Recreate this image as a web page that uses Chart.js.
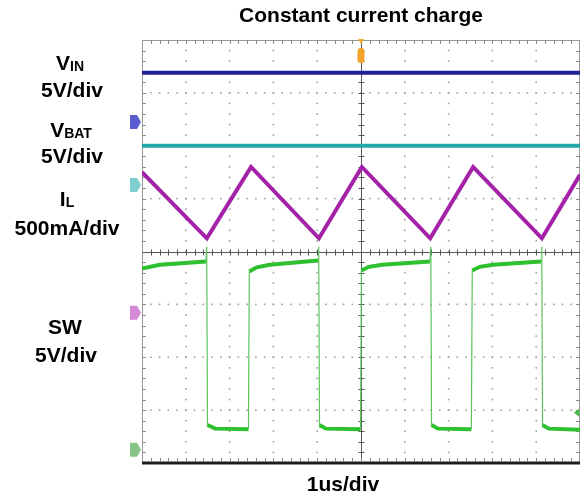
<!DOCTYPE html>
<html><head><meta charset="utf-8">
<script src="https://cdn.jsdelivr.net/npm/chart.js@4/dist/chart.umd.min.js"></script>
<style>
html,body{margin:0;padding:0;background:#fff;}
#wrap{position:relative;width:586px;height:498px;overflow:hidden;}
canvas{position:absolute;left:0;top:0;}
.lbl{position:absolute;transform:translateX(-50%);font:bold 21px "Liberation Sans",Arial,sans-serif;line-height:21px;white-space:nowrap;color:#000;}
.lbl small{font-size:14px;position:relative;top:1px;}
</style></head><body>
<div id="wrap">
<canvas id="c" width="586" height="498"></canvas>
<div class="lbl" style="left:70px;top:52px">V<small>IN</small></div>
<div class="lbl" style="left:72px;top:79px">5V/div</div>
<div class="lbl" style="left:71px;top:119px">V<small>BAT</small></div>
<div class="lbl" style="left:72px;top:145px">5V/div</div>
<div class="lbl" style="left:67px;top:188px">I<small>L</small></div>
<div class="lbl" style="left:67px;top:217px">500mA/div</div>
<div class="lbl" style="left:65px;top:316px">SW</div>
<div class="lbl" style="left:66px;top:344px">5V/div</div>
<div class="lbl" style="left:343px;top:473px">1us/div</div>
</div>
<script>
// Screen grid: 10 horizontal divisions (1 us/div), 8 vertical divisions
const xDivs = 10;
const yDivs = 8;

// VIN trace (time in us, level in divisions from bottom of screen)
const vinT = [0, 10];
const vinY = [7.38, 7.38];

// VBAT trace
const vbatT = [0, 10];
const vbatY = [6.0, 6.0];

// Inductor current IL trace (triangle vertices)
const ilT = [0, 1.48, 2.49, 4.04, 5.02, 6.58, 7.56, 9.13, 10];
const ilY = [5.50, 4.25, 5.60, 4.25, 5.60, 4.25, 5.60, 4.25, 5.45];

// SW node trace
const swT = [0, 0.41, 1.46, 1.477, 1.495, 1.67, 2.43, 2.45, 2.62, 2.92, 4.02, 4.034, 4.053, 4.20, 4.99, 5.01, 5.18, 5.48, 6.575, 6.594, 6.61, 6.76, 7.52, 7.54, 7.71, 8.01, 9.11, 9.128, 9.144, 9.29, 10];
const swY = [3.68, 3.75, 3.81, 4.09, 0.72, 0.65, 0.64, 3.62, 3.70, 3.75, 3.83, 4.09, 0.72, 0.65, 0.64, 3.64, 3.71, 3.75, 3.81, 4.09, 0.72, 0.65, 0.64, 3.64, 3.71, 3.75, 3.81, 4.09, 0.72, 0.65, 0.63];

// Channel ground markers (division levels) and trigger position
const markerLevels = [6.45, 5.26, 2.84, 0.25];
const markerColors = ['#5b5bd0', '#7fcfcf', '#d58ad5', '#86c586'];
const triggerTime = 5;

const pts = (t, v) => t.map((x, i) => ({x, y: v[i]}));

const graticule = {
  id: 'graticule',
  beforeDatasetsDraw(chart) {
    const {ctx, chartArea: {left, right, top, bottom}, scales: {x, y}} = chart;
    ctx.save();
    // dotted grid
    ctx.fillStyle = '#a0a0a0';
    for (let i = 1; i < xDivs; i++) {
      if (i === xDivs / 2) continue;
      const px = x.getPixelForValue(i);
      for (let j = 1; j < yDivs * 5; j++) {
        const py = y.getPixelForValue(j / 5);
        ctx.fillRect(px - 0.8, py - 0.8, 1.6, 1.6);
      }
    }
    for (let j = 1; j < yDivs; j++) {
      if (j === yDivs / 2) continue;
      const py = y.getPixelForValue(j);
      for (let i = 1; i < xDivs * 5; i++) {
        const px = x.getPixelForValue(i / 5);
        ctx.fillRect(px - 0.8, py - 0.8, 1.6, 1.6);
      }
    }
    // outer border
    ctx.strokeStyle = '#9a9a9a';
    ctx.lineWidth = 1;
    ctx.strokeRect(left + 0.5, top + 0.5, right - left - 1, bottom - top);
    // border minor ticks
    ctx.strokeStyle = '#8a8a8a';
    ctx.beginPath();
    for (let i = 1; i < xDivs * 5; i++) {
      const px = Math.round(x.getPixelForValue(i / 5)) + 0.5;
      ctx.moveTo(px, top); ctx.lineTo(px, top + 4);
    }
    for (let j = 1; j < yDivs * 5; j++) {
      const py = Math.round(y.getPixelForValue(j / 5)) + 0.5;
      ctx.moveTo(left, py); ctx.lineTo(left + 4, py);
      ctx.moveTo(right, py); ctx.lineTo(right - 4, py);
    }
    ctx.stroke();
    // center crosshair
    const cx = Math.round(x.getPixelForValue(xDivs / 2)) + 0.5;
    const cy = Math.round(y.getPixelForValue(yDivs / 2)) + 0.5;
    ctx.strokeStyle = '#555';
    ctx.lineWidth = 1;
    ctx.beginPath();
    ctx.moveTo(cx, top); ctx.lineTo(cx, bottom);
    ctx.moveTo(left, cy); ctx.lineTo(right, cy);
    for (let i = 1; i < xDivs * 5; i++) {
      const px = Math.round(x.getPixelForValue(i / 5)) + 0.5;
      ctx.moveTo(px, cy - 3); ctx.lineTo(px, cy + 3);
    }
    for (let j = 1; j < yDivs * 5; j++) {
      const py = Math.round(y.getPixelForValue(j / 5)) + 0.5;
      ctx.moveTo(cx - 3, py); ctx.lineTo(cx + 3, py);
    }
    ctx.stroke();
    // thick bottom edge
    ctx.fillStyle = '#1e1e1e';
    ctx.fillRect(left, bottom - 1.5, right - left, 3);
    ctx.strokeStyle = '#888';
    ctx.beginPath();
    for (let i = 1; i < xDivs * 5; i++) {
      const px = Math.round(x.getPixelForValue(i / 5)) + 0.5;
      ctx.moveTo(px, bottom - 5); ctx.lineTo(px, bottom - 1);
    }
    ctx.stroke();
    ctx.restore();
  },
  afterDatasetsDraw(chart) {
    const {ctx, chartArea: {left, right, top}, scales: {x, y}} = chart;
    ctx.save();
    // channel ground markers
    markerLevels.forEach((lv, i) => {
      const py = y.getPixelForValue(lv);
      ctx.fillStyle = markerColors[i];
      ctx.beginPath();
      ctx.moveTo(left - 12, py - 7);
      ctx.lineTo(left - 5, py - 7);
      ctx.lineTo(left - 1, py);
      ctx.lineTo(left - 5, py + 7);
      ctx.lineTo(left - 12, py + 7);
      ctx.closePath();
      ctx.fill();
    });
    // trigger marker
    const tx = x.getPixelForValue(triggerTime);
    ctx.fillStyle = '#f3a428';
    ctx.beginPath();
    ctx.moveTo(tx - 3, top - 1); ctx.lineTo(tx + 3, top - 1); ctx.lineTo(tx, top + 4);
    ctx.closePath(); ctx.fill();
    ctx.beginPath();
    ctx.roundRect(tx - 3.5, top + 8, 7, 15, 3);
    ctx.fill();
    // small green marker on right
    const gy = y.getPixelForValue(0.95);
    ctx.fillStyle = '#3cbf3c';
    ctx.beginPath();
    ctx.moveTo(right - 1, gy - 4); ctx.lineTo(right - 1, gy + 4); ctx.lineTo(right - 6, gy);
    ctx.closePath(); ctx.fill();
    ctx.restore();
  }
};

const thinEdge = (c) => Math.abs(c.p1.parsed.x - c.p0.parsed.x) < 0.05;

new Chart(document.getElementById('c'), {
  type: 'line',
  data: {
    datasets: [
      {label: 'VIN', data: pts(vinT, vinY), borderColor: '#1f1f96', borderWidth: 4},
      {label: 'VBAT', data: pts(vbatT, vbatY), borderColor: '#22a8a8', borderWidth: 4},
      {label: 'IL', data: pts(ilT, ilY), borderColor: '#a422a8', borderWidth: 4},
      {label: 'SW', data: pts(swT, swY), borderColor: '#2ec02e', borderWidth: 4,
        segment: {
          borderWidth: c => thinEdge(c) ? 1.2 : 4,
          borderColor: c => thinEdge(c) ? '#5cc45c' : '#2ec02e'
        }}
    ]
  },
  options: {
    responsive: false,
    animation: false,
    devicePixelRatio: 1,
    elements: {point: {radius: 0}, line: {tension: 0, borderJoinStyle: 'miter', borderCapStyle: 'butt'}},
    layout: {padding: {left: 142, right: 6, top: 0, bottom: 35}},
    plugins: {
      legend: {display: false},
      tooltip: {enabled: false},
      title: {
        display: true,
        text: 'Constant current charge',
        color: '#000',
        font: {family: '"Liberation Sans", Arial, sans-serif', size: 21, weight: 'bold'},
        padding: {top: 4, bottom: 10.8}
      }
    },
    scales: {
      x: {type: 'linear', min: 0, max: xDivs, display: false},
      y: {type: 'linear', min: 0, max: yDivs, display: false}
    }
  },
  plugins: [graticule]
});
</script>
</body></html>
